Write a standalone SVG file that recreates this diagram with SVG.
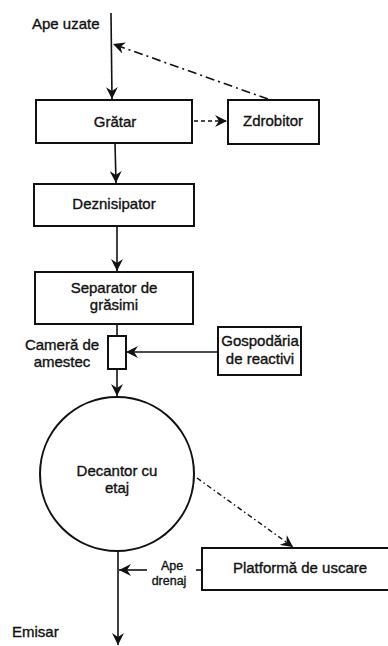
<svg xmlns="http://www.w3.org/2000/svg" width="388" height="646" viewBox="0 0 388 646">
<style>
  .box { fill: #fff; stroke: #111; stroke-width: 2; }
  .ln { fill: none; stroke: #111; stroke-width: 1.6; }
  .dd { fill: none; stroke: #111; stroke-width: 1.6; stroke-dasharray: 9 4 2 4; }
  .dot { fill: none; stroke: #111; stroke-width: 1.6; stroke-dasharray: 4 3; }
  .dd2 { fill: none; stroke: #111; stroke-width: 1.4; stroke-dasharray: 5 3 1.5 3; }
  text { font-family: "Liberation Sans", Arial, sans-serif; font-size: 15px; fill: #111; stroke: #111; stroke-width: 0.35; }
  .c { text-anchor: middle; }
  .s { font-size: 12.5px; }
</style>
<defs>
  <marker id="ah" markerUnits="userSpaceOnUse" markerWidth="14" markerHeight="12" refX="12" refY="6" orient="auto">
    <path d="M0,0 L12,6 L0,12 L4,6 Z" fill="#111"/>
  </marker>
</defs>

<g id="connectors">
  <line class="ln" x1="111" y1="13" x2="112" y2="99" marker-end="url(#ah)"/>
  <line class="dd" x1="268" y1="99" x2="113" y2="44" marker-end="url(#ah)"/>
  <line class="dot" x1="194" y1="121" x2="227" y2="121" marker-end="url(#ah)"/>
  <line class="ln" x1="115" y1="143" x2="116" y2="183" marker-end="url(#ah)"/>
  <line class="ln" x1="117" y1="226" x2="117" y2="271" marker-end="url(#ah)"/>
  <line class="ln" x1="117" y1="324" x2="117" y2="336"/>
  <line class="ln" x1="218" y1="352" x2="126" y2="352" marker-end="url(#ah)"/>
  <line class="ln" x1="117" y1="369" x2="117" y2="396" marker-end="url(#ah)"/>
  <line class="dd2" x1="197" y1="478" x2="293" y2="547" marker-end="url(#ah)"/>
  <line class="ln" x1="118" y1="551" x2="118" y2="645" marker-end="url(#ah)"/>
  <line class="ln" x1="147" y1="570" x2="119" y2="570" marker-end="url(#ah)"/>
  <line class="ln" x1="196" y1="570" x2="202" y2="570"/>
</g>

<g id="ape-uzate"><text x="32" y="29">Ape uzate</text></g>

<g id="gratar">
  <rect class="box" x="36" y="100" width="156" height="43"/>
  <text class="c" x="115" y="127">Grătar</text>
</g>

<g id="zdrobitor">
  <rect class="box" x="228" y="100" width="91" height="44"/>
  <text class="c" x="273" y="126">Zdrobitor</text>
</g>

<g id="deznisipator">
  <rect class="box" x="34" y="184" width="160" height="42"/>
  <text class="c" x="114" y="209">Deznisipator</text>
</g>

<g id="separator">
  <rect class="box" x="35" y="272" width="158" height="52"/>
  <text class="c" x="114" y="293">Separator de</text>
  <text class="c" x="114" y="310">grăsimi</text>
</g>

<g id="camera">
  <rect class="box" x="108" y="336" width="18" height="33"/>
  <text class="c" x="62" y="350">Cameră de</text>
  <text class="c" x="62" y="367">amestec</text>
</g>

<g id="gospodaria">
  <rect class="box" x="218" y="327" width="83" height="48"/>
  <text class="c" x="260" y="346">Gospodăria</text>
  <text class="c" x="260" y="364">de reactivi</text>
</g>

<g id="decantor">
  <circle class="box" cx="117" cy="474" r="77"/>
  <text class="c" x="117" y="476">Decantor cu</text>
  <text class="c" x="117" y="493">etaj</text>
</g>

<g id="platforma">
  <rect class="box" x="202" y="548" width="188" height="42"/>
  <text class="c" x="300" y="573">Platformă de uscare</text>
</g>

<g id="ape-drenaj">
  <text class="c s" x="172" y="570">Ape</text>
  <text class="c s" x="169" y="585">drenaj</text>
</g>

<g id="emisar"><text x="12" y="637">Emisar</text></g>
</svg>
